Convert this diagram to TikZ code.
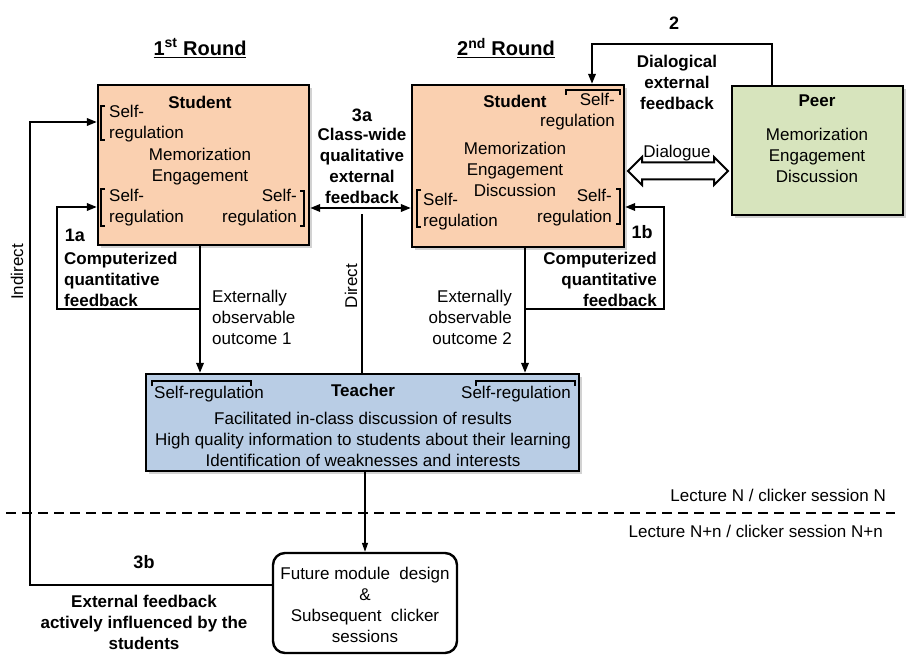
\documentclass[tikz,border=0pt]{standalone}
\usepackage{fontspec}
\setmainfont{Liberation Sans}
\usetikzlibrary{arrows.meta,calc,shadows}
\definecolor{studfill}{HTML}{FAD0B0}
\definecolor{peerfill}{HTML}{D7E4BD}
\definecolor{teachfill}{HTML}{B9CDE5}
\tikzset{
  box/.style={draw, line width=2.4pt, inner sep=0pt},
  shbox/.style={box, drop shadow={shadow xshift=3pt, shadow yshift=-3pt, opacity=0.35}},
  title/.style={font=\fontsize{20}{24}\selectfont\bfseries, inner sep=0pt},
  lbl/.style={font=\fontsize{17}{21}\selectfont\bfseries, inner sep=0pt},
  num/.style={font=\fontsize{18}{21}\selectfont\bfseries, inner sep=0pt},
  txt/.style={align=center, inner sep=0pt},
  arr/.style={line width=2pt, -{Triangle[length=10pt,width=7.5pt]}},
  darr/.style={line width=2pt, {Triangle[length=10pt,width=7.5pt]}-{Triangle[length=10pt,width=7.5pt]}},
  thinarr/.style={line width=1.3pt, -{Triangle[length=9pt,width=6pt]}},
  brk/.style={line width=1.6pt}
}

\begin{document}
\begin{tikzpicture}[x=1pt, y=-1pt, font=\fontsize{17}{21}\selectfont]
	%%%%% START %%%%%
	\fill[white] (0,0) rectangle (920,663);
	\useasboundingbox (0,0) rectangle (920,663);

	% titles
	\node[title] (r1) at (200,48) {\underline{1\textsuperscript{st} Round}};
	\node[title] (r2) at (506,48) {\underline{2\textsuperscript{nd} Round}};

	% boxes
	\node[shbox, fill=studfill, minimum width=211pt, minimum height=160pt] (s1) at (203.5,165) {};
	\node[shbox, fill=studfill, minimum width=212pt, minimum height=162pt] (s2) at (518,166) {};
	\node[shbox, fill=peerfill, minimum width=171pt, minimum height=129pt] (peer) at (817.5,150.5) {};
	\node[shbox, fill=teachfill, minimum width=433pt, minimum height=97pt] (teach) at (362.5,422.5) {};
	\node[box, rounded corners=12pt, fill=white, minimum width=184pt, minimum height=100pt] (fut) at (365,603) {};

	% student 1
	\node[lbl] (s1t) at (200,102) {Student};
	\node[txt, align=left, anchor=west] (s1a) at (109,124) {Self-\\regulation};
	\node[txt] (s1m) at (200,167) {Memorization\\Engagement};
	\node[txt, align=left, anchor=west] (s1b) at (109,208) {Self-\\regulation};
	\node[txt, align=right, anchor=east] (s1c) at (297,208) {Self-\\regulation};
	\draw[brk] (105,106) -- (101,106) -- (101,140) -- (105,140);
	\draw[brk] (105,189) -- (101,189) -- (101,226) -- (105,226);
	\draw[brk] (300,191) -- (304,191) -- (304,226) -- (300,226);

	% student 2
	\node[lbl] (s2t) at (515,101) {Student};
	\node[txt, align=right, anchor=east] (s2a) at (615,112) {Self-\\regulation};
	\node[txt] (s2m) at (515,169) {Memorization\\Engagement\\Discussion};
	\node[txt, align=left, anchor=west] (s2b) at (423,212) {Self-\\regulation};
	\node[txt, align=right, anchor=east] (s2c) at (612,208) {Self-\\regulation};
	\draw[brk] (566,95) -- (566,90) -- (620,90) -- (620,95);
	\draw[brk] (421,190) -- (417,190) -- (417,227) -- (421,227);
	\draw[brk] (616,189) -- (620,189) -- (620,224) -- (616,224);

	% peer
	\node[lbl] (pt) at (817,101) {Peer};
	\node[txt] (pm) at (817,155) {Memorization\\Engagement\\Discussion};

	% teacher
	\node[lbl] (tt) at (363,390) {Teacher};
	\node[txt, anchor=west] (ta) at (154,394) {Self-regulation};
	\node[txt, anchor=east] (tb) at (571,394) {Self-regulation};
	\node[txt] (tm) at (363,439) {Facilitated in-class discussion of results\\High quality information to students about their learning\\Identification of weaknesses and interests};
	\draw[brk] (152,386) -- (152,381) -- (251,381) -- (251,386);
	\draw[brk] (476,386) -- (476,381) -- (575,381) -- (575,386);

	% future
	\node[txt] (fm) at (365,605) {Future module\ \ design\\\&\\Subsequent\ \ clicker\\sessions};

	% labels
	\node[num] (n3a) at (362,115) {3a};
	\node[lbl, align=center] (l3a) at (362,166) {Class-wide\\qualitative\\external\\feedback};
	\node[num] (n2) at (674,23) {2};
	\node[lbl, align=center] (l2) at (677,82) {Dialogical\\external\\feedback};
	\node[txt] (dlt) at (677,153) {Dialogue};
	\node[num] (n1a) at (75,235) {1a};
	\node[lbl, align=left, anchor=west] (l1a) at (64,279) {Computerized\\quantitative\\feedback};
	\node[txt, align=left, anchor=west] (e1) at (212,317) {Externally\\observable\\outcome 1};
	\node[num] (n1b) at (642,232) {1b};
	\node[lbl, align=right, anchor=east] (l1b) at (657,279) {Computerized\\quantitative\\feedback};
	\node[txt, align=right, anchor=east] (e2) at (512,317) {Externally\\observable\\outcome 2};
	\node[txt, rotate=90] (dir) at (351,286) {Direct};
	\node[txt, rotate=90] (indl) at (17,272) {Indirect};
	\node[txt, anchor=east] (lecn) at (886,495) {Lecture N / clicker session N};
	\node[txt, anchor=east] (lecm) at (883,531) {Lecture N+n / clicker session N+n};
	\node[num] (n3b) at (144,562) {3b};
	\node[lbl, align=center] (l3b) at (144,622) {External feedback\\actively influenced by the\\students};

	% connectors
	\coordinate (ind) at (30,122);
	\coordinate (ib) at (30,585);
	\draw[arr] (fut.west |- ib) -- (ib) -- (ind) -- (s1.west |- ind);

	\coordinate (o1) at (200,309);
	\coordinate (fa) at (57,207);
	\draw[arr] (s1.south -| o1) -- (teach.north -| o1);
	\draw[arr] (o1) -| (fa) -- (s1.west |- fa);

	\coordinate (o2) at (525,309);
	\coordinate (fb) at (664,207);
	\draw[arr] (s2.south -| o2) -- (teach.north -| o2);
	\draw[arr] (o2) -| (fb) -- (s2.east |- fb);

	\coordinate (a3) at (362,208);
	\draw[darr] (s1.east |- a3) -- (s2.west |- a3);
	\coordinate (d3) at (362,214);
	\draw[line width=2pt] (d3) -- (teach.north -| d3);

	\coordinate (c2r) at (772,44);
	\coordinate (c2l) at (592,44);
	\draw[arr] (peer.north -| c2r) -- (c2r) -- (c2l) -- (s2.north -| c2l);

	\draw[thinarr] (teach.south -| fut.north) -- (fut.north);

	% dialogue arrow
	\coordinate (dlg) at (678,171);
	\draw[line width=2pt, fill=white] ($(dlg)+(-50,0)$) -- ++(14,-14) -- ++(0,5.5) -- ++(72,0) -- ++(0,-5.5) -- ++(14,14) -- ++(-14,14) -- ++(0,-5.5) -- ++(-72,0) -- ++(0,5.5) -- cycle;

	% session divider
	\draw[line width=2.5pt, dash pattern=on 10pt off 6pt] (6,513) -- (895,513);
	%%%%% END %%%%%
\end{tikzpicture}
\end{document}
